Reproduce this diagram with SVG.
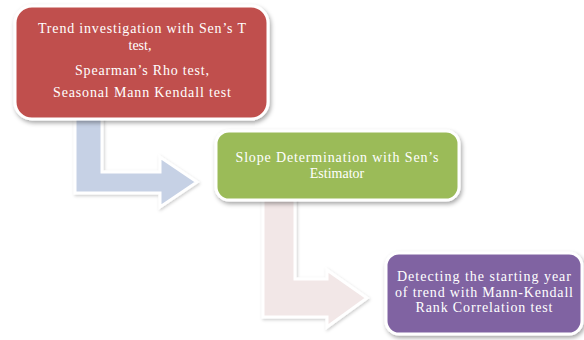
<svg xmlns="http://www.w3.org/2000/svg" width="584" height="340" viewBox="0 0 584 340">
<defs>
<filter id="sh" x="-10%" y="-10%" width="125%" height="135%">
<feDropShadow dx="1.5" dy="2.5" stdDeviation="2" flood-color="#000" flood-opacity="0.35"/>
</filter>
<filter id="ash" x="-10%" y="-10%" width="125%" height="125%">
<feDropShadow dx="1" dy="1.5" stdDeviation="1.5" flood-color="#000" flood-opacity="0.2"/>
</filter>
</defs>
<style>
.box{stroke:#fff;stroke-width:3;filter:url(#sh)}
.arr{stroke:#fff;stroke-width:3;stroke-linejoin:miter;filter:url(#ash)}
text{font-family:"Liberation Serif","Times New Roman",serif;font-size:14px;fill:#fff;text-anchor:middle}
</style>
<g id="connectors">
<polygon class="arr" fill="#C6D1E5" points="75,112 75,193 160,193 160,207 197,182 160,157 160,172 102,172 102,112"/>
<polygon class="arr" fill="#F2E7E7" points="263,195 263,317 327,317 327,327 367,298 327,270 327,279 295,279 295,195"/>
</g>
<g id="node1">
<rect class="box" x="15" y="6" width="253" height="113" rx="17" fill="#C0504D"/>
<text x="142" y="33" textLength="208" lengthAdjust="spacing">Trend investigation with Sen’s T</text>
<text x="140" y="50">test,</text>
<text x="142" y="75" textLength="134" lengthAdjust="spacing">Spearman’s Rho test,</text>
<text x="142" y="97" textLength="178" lengthAdjust="spacing">Seasonal Mann Kendall test</text>
</g>
<g id="node2">
<rect class="box" x="216" y="131" width="243" height="69" rx="13" fill="#9BBB59"/>
<text x="337" y="162" textLength="203" lengthAdjust="spacing">Slope Determination with Sen’s</text>
<text x="337" y="178">Estimator</text>
</g>
<g id="node3">
<rect class="box" x="386" y="253" width="196" height="81" rx="13" fill="#8064A2"/>
<text x="484" y="281" textLength="174" lengthAdjust="spacing">Detecting the starting year</text>
<text x="484" y="297" textLength="178" lengthAdjust="spacing">of trend with Mann-Kendall</text>
<text x="484" y="312" textLength="137" lengthAdjust="spacing">Rank Correlation test</text>
</g>
</svg>
